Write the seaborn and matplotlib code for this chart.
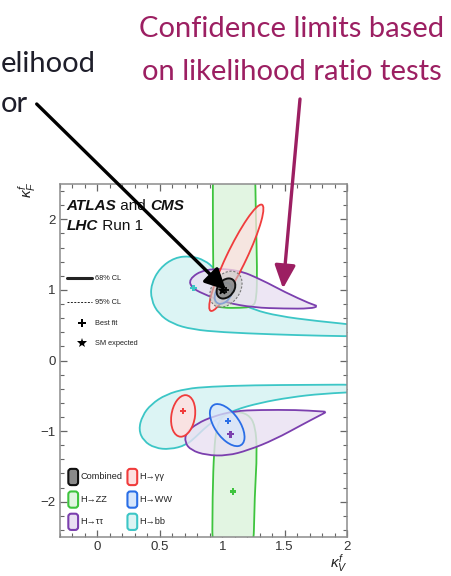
import numpy as np
import pandas as pd
import seaborn as sns
import matplotlib
matplotlib.use("Agg")
import matplotlib.pyplot as plt
from matplotlib.path import Path
from matplotlib.patches import PathPatch, Ellipse, FancyBboxPatch
from matplotlib.ticker import MultipleLocator, FuncFormatter

sns.set_theme(style="ticks")
plt.rcParams["font.family"] = ["Liberation Sans", "DejaVu Sans"]
plt.rcParams["mathtext.fontset"] = "custom"
plt.rcParams["mathtext.rm"] = "Liberation Sans"
plt.rcParams["mathtext.it"] = "Liberation Sans:italic"
plt.rcParams["mathtext.bf"] = "Liberation Sans:bold"

# ---- axis ranges and ticks ----
kv_range = (-0.3, 2.0)
kf_range = (-2.5, 2.5)
kv_ticks = [0, 0.5, 1, 1.5, 2]
kf_ticks = [-2, -1, 0, 1, 2]

# ---- 68% CL contours (kappa_V, kappa_F), positive and negative kappa_F branches ----
bb_upper = [(2.15, 0.49), (1.75, 0.56), (1.45, 0.63), (1.25, 0.72), (1.13, 0.83),
            (1.06, 0.96), (1.00, 1.12), (0.94, 1.30), (0.86, 1.42), (0.75, 1.48),
            (0.62, 1.46), (0.50, 1.31), (0.43, 1.08), (0.43, 0.86), (0.49, 0.66),
            (0.60, 0.52), (0.76, 0.44), (1.00, 0.40), (1.40, 0.37), (1.80, 0.35),
            (2.15, 0.34)]
bb_lower = [(2.15, -0.34), (1.70, -0.345), (1.25, -0.35), (0.90, -0.37), (0.71, -0.40),
            (0.55, -0.48), (0.43, -0.62), (0.36, -0.78), (0.33, -0.98), (0.37, -1.14),
            (0.46, -1.24), (0.58, -1.26), (0.71, -1.20), (0.79, -1.08), (0.87, -0.94),
            (0.97, -0.81), (1.10, -0.70), (1.30, -0.60), (1.55, -0.52), (1.80, -0.47),
            (2.15, -0.44)]
zz_upper = [(0.925, 2.9), (0.925, 2.0), (0.928, 1.30), (0.932, 0.95), (0.945, 0.78),
            (1.00, 0.745), (1.15, 0.745), (1.24, 0.76), (1.275, 0.85), (1.28, 1.30),
            (1.27, 2.0), (1.262, 2.9)]
zz_lower = [(0.92, -2.9), (0.922, -1.90), (0.935, -1.25), (0.955, -0.95), (1.00, -0.78),
            (1.10, -0.72), (1.21, -0.76), (1.265, -0.92), (1.28, -1.30), (1.26, -1.90),
            (1.248, -2.9)]
tt_upper = [(1.71, 0.80), (1.77, 0.77), (1.71, 0.735), (1.50, 0.735), (1.25, 0.75),
            (1.03, 0.82), (0.88, 0.92), (0.76, 1.02), (0.73, 1.15), (0.86, 1.30),
            (1.12, 1.29), (1.32, 1.14), (1.50, 0.97)]
tt_lower = [(1.78, -0.72), (1.84, -0.725), (1.79, -0.77), (1.65, -0.90), (1.42, -1.12),
            (1.21, -1.27), (1.04, -1.35), (0.87, -1.34), (0.75, -1.27), (0.70, -1.16),
            (0.71, -1.02), (0.80, -0.89), (0.93, -0.79), (1.10, -0.715), (1.30, -0.70),
            (1.60, -0.70)]

# elliptical contours: centre, full width, full height, rotation (deg)
gg_upper = ((1.113, 1.455), 1.56, 0.166, 75)
gg_lower = ((0.687, -0.785), 0.19, 0.59, -4)
ww_upper = ((1.01, 0.95), 0.13, 0.30, -12)
ww_lower = ((1.04, -0.915), 0.62, 0.22, -73)
comb_68 = ((1.03, 1.02), 0.14, 0.29, -12)
comb_95 = ((1.03, 1.01), 0.24, 0.52, -12)

# ---- best-fit points ----
fit_channel = ["Combined", "H→bb", "H→γγ", "H→WW", "H→ττ", "H→ZZ"]
fit_kv = [1.03, 0.77, 0.687, 1.047, 1.066, 1.086]
fit_kf = [1.00, 1.03, -0.715, -0.86, -1.046, -1.855]
sm_kv, sm_kf = [1.0], [1.0]

# ---- legend entries ----
legend_labels = ["Combined", "H→ZZ", "H→ττ", "H→γγ", "H→WW", "H→bb"]
cl_labels = ["68% CL", "95% CL", "Best fit", "SM expected"]

line_col = {"Combined": "#111111", "H→γγ": "#f03c3c", "H→ZZ": "#3ec43e",
            "H→WW": "#2a6ee6", "H→ττ": "#7b3fae", "H→bb": "#3cc6c6"}
fill_col = {"Combined": "#8a8a8a", "H→γγ": "#fde0e0", "H→ZZ": "#e2f5e2",
            "H→WW": "#d6e6fb", "H→ττ": "#e9e0f2", "H→bb": "#dcf4f4"}


def smooth_closed(points):
    """Closed quadratic B-spline path with the given control polygon."""
    p = np.asarray(points, dtype=float)
    mids = (p + np.roll(p, -1, axis=0)) / 2.0
    verts = [mids[-1]]
    codes = [Path.MOVETO]
    for i in range(len(p)):
        verts += [p[i], mids[i]]
        codes += [Path.CURVE3, Path.CURVE3]
    verts.append(mids[-1])
    codes.append(Path.CLOSEPOLY)
    return Path(verts, codes)


fig = plt.figure(figsize=(4.52, 5.76), dpi=100)
fig.patch.set_facecolor("white")
ax = fig.add_axes([60 / 452, 39 / 576, 287 / 452, 353 / 576])
ax.set_facecolor("white")
ax.set_xlim(*kv_range)
ax.set_ylim(*kf_range)


def draw_shape(points, ch, z, alpha=1.0):
    ax.add_patch(PathPatch(smooth_closed(points), facecolor=fill_col[ch], alpha=alpha,
                           edgecolor="none", zorder=z))
    ax.add_patch(PathPatch(smooth_closed(points), facecolor="none",
                           edgecolor=line_col[ch], lw=1.3, zorder=z + 0.1))


def draw_ellipse(params, ch, z, alpha=1.0, ls="-", lw=1.3, fc=None, ec=None):
    (cx, cy), w, h, ang = params
    ax.add_patch(Ellipse((cx, cy), w, h, angle=ang,
                         facecolor=fc or fill_col[ch], alpha=alpha,
                         edgecolor="none", zorder=z))
    ax.add_patch(Ellipse((cx, cy), w, h, angle=ang, facecolor="none",
                         edgecolor=ec or line_col[ch], lw=lw, ls=ls, zorder=z + 0.1))


draw_shape(bb_upper, "H→bb", 1)
draw_shape(bb_lower, "H→bb", 1)
draw_shape(zz_upper, "H→ZZ", 2)
draw_shape(zz_lower, "H→ZZ", 2)
draw_shape(tt_upper, "H→ττ", 3, alpha=0.8)
draw_shape(tt_lower, "H→ττ", 3, alpha=0.8)
draw_ellipse(gg_upper, "H→γγ", 4, alpha=0.75)
draw_ellipse(gg_lower, "H→γγ", 4, alpha=0.9)
draw_ellipse(ww_upper, "H→WW", 5, alpha=0.8)
draw_ellipse(ww_lower, "H→WW", 5, alpha=0.75)
draw_ellipse(comb_95, "Combined", 6, alpha=0.6, ls=(0, (2, 1.5)), lw=0.8,
             fc="#c8c8c8", ec="#777777")
draw_ellipse(comb_68, "Combined", 6.5, alpha=0.9, lw=1.4)

# best-fit markers and SM expectation
fits = pd.DataFrame({"kv": fit_kv, "kf": fit_kf, "channel": fit_channel})
sns.scatterplot(data=fits, x="kv", y="kf", hue="channel", palette=line_col,
                marker="P", s=22, linewidth=0, legend=False, ax=ax, zorder=8)
ax.scatter(sm_kv, sm_kf, marker="*", s=30, color="black", zorder=8.5)

# axes styling
frame_col = "#8c8c8c"
for sp in ax.spines.values():
    sp.set_color(frame_col)
    sp.set_linewidth(1.1)
ax.xaxis.set_major_locator(plt.FixedLocator(kv_ticks))
ax.yaxis.set_major_locator(plt.FixedLocator(kf_ticks))
ax.xaxis.set_minor_locator(MultipleLocator(0.1))
ax.yaxis.set_minor_locator(MultipleLocator(0.2))
fmt = FuncFormatter(lambda v, _: ("%g" % v).replace("-", "\u2212"))
ax.xaxis.set_major_formatter(fmt)
ax.yaxis.set_major_formatter(fmt)
ax.tick_params(which="both", direction="in", top=True, right=True,
               color="#666666", labelsize=9.5, labelcolor="#333333")
ax.tick_params(which="major", length=5, width=0.9, pad=3)
ax.tick_params(which="minor", length=3, width=0.8)
ax.set_xlabel("")
ax.set_ylabel("")

ax.text(0.972, -0.074, r"$\kappa_{V}^{f}$", transform=ax.transAxes, ha="center",
        va="center", fontsize=11, color="#222222")
ax.text(-0.115, 0.985, r"$\kappa_{F}^{f}$", transform=ax.transAxes, ha="center",
        va="center", fontsize=11, color="#222222", rotation=90)

# experiment label
hdr = dict(fontsize=11, color="#111111", va="bottom")
t1 = ax.text(0.023, 0.918, "ATLAS", transform=ax.transAxes, fontweight="bold",
             fontstyle="italic", zorder=9, **hdr)
t2 = ax.annotate(" and ", xy=(1, 0), xycoords=t1, zorder=9, **hdr)
ax.annotate("CMS", xy=(1, 0), xycoords=t2, fontweight="bold", fontstyle="italic",
            zorder=9, **hdr)
t4 = ax.text(0.023, 0.861, "LHC", transform=ax.transAxes, fontweight="bold",
             fontstyle="italic", zorder=9, **hdr)
ax.annotate(" Run 1", xy=(1, 0), xycoords=t4, zorder=9, **hdr)

# CL-style legend
lx0, lx1, ltx = 0.023, 0.110, 0.122
cl_y = [0.733, 0.665, 0.606, 0.549]
ax.plot([lx0, lx1], [cl_y[0]] * 2, transform=ax.transAxes, color="#222222", lw=2.2,
        zorder=9)
ax.plot([lx0, lx1], [cl_y[1]] * 2, transform=ax.transAxes, color="#222222", lw=0.7,
        ls=(0, (2, 1.5)), zorder=9)
ax.plot([0.076], [cl_y[2]], transform=ax.transAxes, marker="P", ms=6, color="black",
        mew=0, zorder=9)
ax.plot([0.076], [cl_y[3]], transform=ax.transAxes, marker="*", ms=7, color="black",
        mew=0, zorder=9)
for lab, yy in zip(cl_labels, cl_y):
    ax.text(ltx, yy, lab, transform=ax.transAxes, fontsize=5.3, va="center",
            color="#222222", zorder=9)

# channel legend
col_box_x = [0.029, 0.235]
col_txt_x = [0.071, 0.275]
row_y = [0.170, 0.106, 0.043]
bw, bh = 0.034, 0.046
for i, lab in enumerate(legend_labels):
    c, r = divmod(i, 3)
    x, y = col_box_x[c], row_y[r]
    ax.add_patch(FancyBboxPatch((x, y - bh / 2), bw, bh,
                                boxstyle="round,pad=0,rounding_size=0.010",
                                mutation_aspect=287 / 353,
                                transform=ax.transAxes, facecolor=fill_col[lab],
                                edgecolor=line_col[lab], lw=1.5, zorder=9))
    ax.text(col_txt_x[c], y, lab, transform=ax.transAxes, fontsize=6.6, va="center",
            color="#222222", zorder=9)

# slide annotations
slide_font = ["Lato", "DejaVu Sans"]
magenta = "#9c1f62"
fig.text(292 / 452, 1 - 37 / 576, "Confidence limits based", ha="center",
         va="baseline", fontsize=21, color=magenta, family=slide_font)
fig.text(292 / 452, 1 - 80 / 576, "on likelihood ratio tests", ha="center",
         va="baseline", fontsize=21, color=magenta, family=slide_font)
fig.text(1 / 452, 1 - 72 / 576, "elihood", ha="left", va="baseline",
         fontsize=21, color="#1e1e2a", family=slide_font)
fig.text(0.5 / 452, 1 - 112 / 576, "or", ha="left", va="baseline",
         fontsize=21, color="#1e1e2a", family=slide_font)

ax.annotate("", xy=(1.03, 1.0), xycoords="data", xytext=(36.7, 576 - 104),
            textcoords="figure pixels", annotation_clip=False, zorder=12,
            arrowprops=dict(arrowstyle="-|>,head_length=0.9,head_width=0.45",
                            color="black", lw=2.4, shrinkA=0, shrinkB=0,
                            mutation_scale=14))
ax.annotate("", xy=(1.487, 1.02), xycoords="data", xytext=(300, 576 - 99),
            textcoords="figure pixels", annotation_clip=False, zorder=12,
            arrowprops=dict(arrowstyle="-|>,head_length=1.0,head_width=0.45",
                            color=magenta, lw=2.4, shrinkA=0, shrinkB=0,
                            mutation_scale=14))

fig.savefig("out.png", dpi=100)
